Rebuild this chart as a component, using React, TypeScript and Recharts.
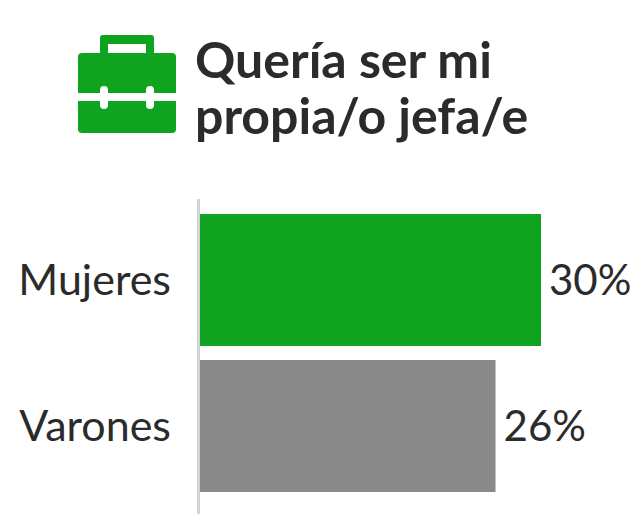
import { BarChart, Bar, XAxis, YAxis, Cell, LabelList } from 'recharts';

const categories = ['Mujeres', 'Varones'];
const values = [30, 26];
const barColors = ['#0fa320', '#8a8a8a'];
const titleLines = ['Quería ser mi', 'propia/o jefa/e'];

const data = categories.map((name, i) => ({ name, value: values[i] }));

const FONT = 'Lato, "Noto Sans", sans-serif';
const TEXT = '#2b2b2b';

function BriefcaseIcon() {
  return (
    <svg width={98} height={98} viewBox="0 0 98 98" style={{ position: 'absolute', left: 78, top: 35 }}>
      <path
        fillRule="evenodd"
        fill={barColors[0]}
        d="M25 0H73Q76 0 76 3V18H94Q98 18 98 22V58H0V22Q0 18 4 18H22V3Q22 0 25 0ZM30 9V18H68V9Z"
      />
      <path fill={barColors[0]} d="M0 66H98V94Q98 98 94 98H4Q0 98 0 94Z" />
      <rect x={22} y={51} width={8} height={23} rx={4} fill="#fff" />
      <rect x={68} y={51} width={8} height={23} rx={4} fill="#fff" />
    </svg>
  );
}

export default function App() {
  return (
    <div style={{ position: 'absolute', left: 0, top: 0, width: 639, height: 514, background: '#fff', fontFamily: FONT, overflow: 'hidden' }}>
      <BriefcaseIcon />
      <div style={{ position: 'absolute', left: 195, top: 31, fontSize: 50, lineHeight: '56px', fontWeight: 700, color: TEXT, whiteSpace: 'nowrap' }}>
        {titleLines.map((line) => (
          <div key={line}>{line}</div>
        ))}
      </div>
      <BarChart
        width={639}
        height={514}
        data={data}
        layout="vertical"
        barSize={132}
        margin={{ top: 199, right: 98, bottom: 0, left: 0 }}
        style={{ position: 'absolute', left: 0, top: 0 }}
      >
        <XAxis type="number" domain={[0, 30]} hide />
        <YAxis
          type="category"
          dataKey="name"
          width={200}
          padding={{ top: 8, bottom: 15 }}
          axisLine={{ stroke: '#d3d3d3', strokeWidth: 3, transform: 'translate(-1.5,0)' }}
          tickLine={false}
          tickSize={0}
          tickMargin={29}
          tick={{ fontSize: 43, fill: TEXT, fontFamily: FONT }}
        />
        <Bar dataKey="value" isAnimationActive={false}>
          {data.map((d, i) => (
            <Cell key={d.name} fill={barColors[i]} />
          ))}
          <LabelList
            dataKey="value"
            position="right"
            offset={8}
            formatter={(v: number) => `${v}%`}
            style={{ fontSize: 42, fill: TEXT, fontFamily: FONT }}
          />
        </Bar>
      </BarChart>
    </div>
  );
}
